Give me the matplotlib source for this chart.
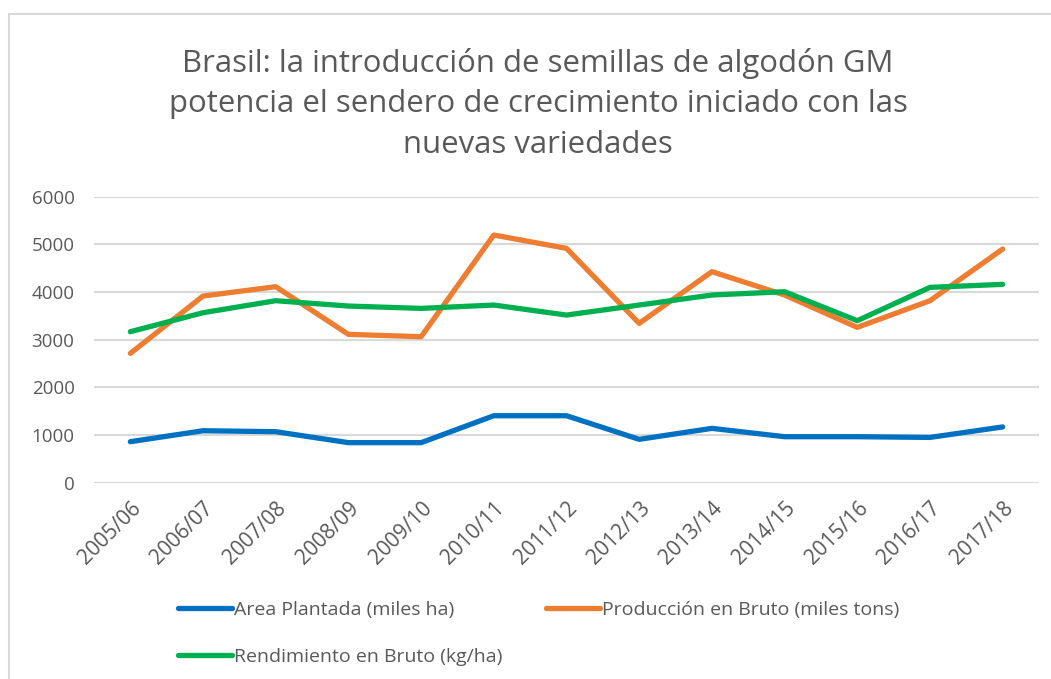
import matplotlib.pyplot as plt
import matplotlib.patches as patches
import numpy as np

# Campanas de algodon en Brasil
campanas = ['2005/06', '2006/07', '2007/08', '2008/09', '2009/10', '2010/11', '2011/12',
            '2012/13', '2013/14', '2014/15', '2015/16', '2016/17', '2017/18']
area_plantada = [860, 1090, 1070, 840, 840, 1405, 1405, 910, 1140, 965, 965, 950, 1170]
produccion = [2713, 3916, 4112, 3112, 3063, 5196, 4916, 3343, 4427, 3937, 3259, 3818, 4902]
rendimiento = [3168, 3566, 3818, 3706, 3657, 3727, 3517, 3727, 3937, 4007, 3399, 4098, 4161]
y_ticks = [0, 1000, 2000, 3000, 4000, 5000, 6000]

titulo = ('Brasil: la introducción de semillas de algodón GM\n'
          'potencia el sendero de crecimiento iniciado con las\n'
          'nuevas variedades')

plt.rcParams['font.family'] = ['Open Sans', 'DejaVu Sans']
gris = '#595959'

fig = plt.figure(figsize=(10.51, 6.79), dpi=100)
ax = fig.add_axes([94/1051, 1 - 482.7/679, (1039 - 94)/1051, (482.7 - 196.7)/679])

x = np.arange(len(campanas))
l_area, = ax.plot(x, area_plantada, color='#0070C0', lw=3.8, solid_capstyle='round')
l_prod, = ax.plot(x, produccion, color='#ED7D31', lw=3.8, solid_capstyle='round')
l_rend, = ax.plot(x, rendimiento, color='#00B050', lw=3.8, solid_capstyle='round')

ax.set_xlim(-0.5, len(campanas) - 0.5)
ax.set_ylim(0, 6000)
ax.set_yticks(y_ticks)
ax.set_xticks(x)
ax.set_xticklabels(campanas, rotation=45, ha='right', va='top', rotation_mode='anchor')
ax.tick_params(axis='y', length=0, labelsize=13.5, labelcolor=gris, pad=14)
ax.tick_params(axis='x', length=0, labelsize=15, labelcolor=gris, pad=11)
ax.grid(axis='y', color='#D9D9D9', lw=1.5)
ax.set_axisbelow(True)
for s in ax.spines.values():
    s.set_visible(False)

fig.text(538/1051, 1 - 48/679, titulo, ha='center', va='top', fontsize=22.4, color=gris, linespacing=1.45)

# leyenda en dos bloques para respetar el orden por filas
opts = dict(loc='upper left', frameon=False, fontsize=14, handlelength=2.8, handletextpad=0.1,
            labelspacing=1.5, labelcolor=gris, borderpad=0, borderaxespad=0)
leg1 = fig.legend([l_area, l_rend], ['Area Plantada (miles ha)', 'Rendimiento en Bruto (kg/ha)'],
                  bbox_to_anchor=(178/1051, 1 - 601/679), **opts)
leg2 = fig.legend([l_prod], ['Producción en Bruto (miles tons)'],
                  bbox_to_anchor=(546/1051, 1 - 601/679), **opts)

# marco del area del grafico
fig.patches.append(patches.Rectangle((9/1051, -0.05), 1.2, 1 - 14/679 + 0.05, transform=fig.transFigure,
                                     fill=False, edgecolor='#D9D9D9', lw=1.5))

fig.savefig('out.png', dpi=100)
